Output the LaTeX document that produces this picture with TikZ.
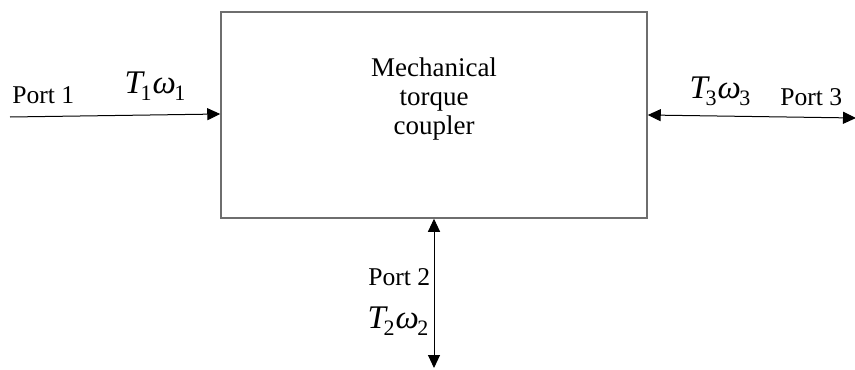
\documentclass[tikz,border=0pt]{standalone}
\usepackage{fontspec}
\setmainfont{Liberation Serif}
\usetikzlibrary{arrows.meta, positioning, calc}
\definecolor{boxgray}{RGB}{110, 110, 110}

% port variable such as T_1 omega_1
\newcommand{\portvar}[1]{{\fontsize{16.5}{18}\selectfont\itshape T\kern-1.2pt\raisebox{-0.5ex}{\upshape\fontsize{11}{12}\selectfont #1}\kern0.5pt ω\kern-0.8pt\raisebox{-0.5ex}{\upshape\fontsize{11}{12}\selectfont #1}}}

\begin{document}
\begin{tikzpicture}[
    x=0.5pt, y=-0.5pt,
    block/.style={rectangle, draw=boxgray, line width=0.75pt,
                  minimum width=213pt, minimum height=103pt, inner sep=0pt},
    lbl/.style={font=\fontsize{12.8}{14.5}\selectfont, align=center, inner sep=0pt},
    arrow/.style={-{Triangle[length=6.5pt, width=6pt]}, line width=0.5pt},
    darrow/.style={{Triangle[length=6.5pt, width=6pt]}-{Triangle[length=6.5pt, width=6pt]}, line width=0.5pt}
]
\useasboundingbox (0,0) rectangle (855,369);

\node[block] (coupler) at (434,115) {};
\node[lbl, font=\fontsize{13.5}{14.5}\selectfont] (couplertext) at (434,99) {Mechanical\\torque\\coupler};

% free ends of the ports
\coordinate (p1) at (10,117);
\coordinate (p3) at (856,118);
\coordinate (p2) at (434,368);

\draw[arrow] (p1) -- ($(coupler.west)+(0,-1)$);
\draw[darrow] (coupler.east) -- (p3);
\draw[darrow] (coupler.south) -- (p2);

% port labels
\node[lbl, anchor=base west] (port1) at (12,104) {Port 1};
\node[lbl, anchor=base west] (port3) at (780,105) {Port 3};
\node[lbl, anchor=base west] (port2) at (368,285) {Port 2};
\node[inner sep=0pt, anchor=base] (var1) at (155,93) {\portvar{1}};
\node[inner sep=0pt, anchor=base] (var3) at (720,98) {\portvar{3}};
\node[inner sep=0pt, anchor=base] (var2) at (398,328) {\portvar{2}};
\end{tikzpicture}
\end{document}
